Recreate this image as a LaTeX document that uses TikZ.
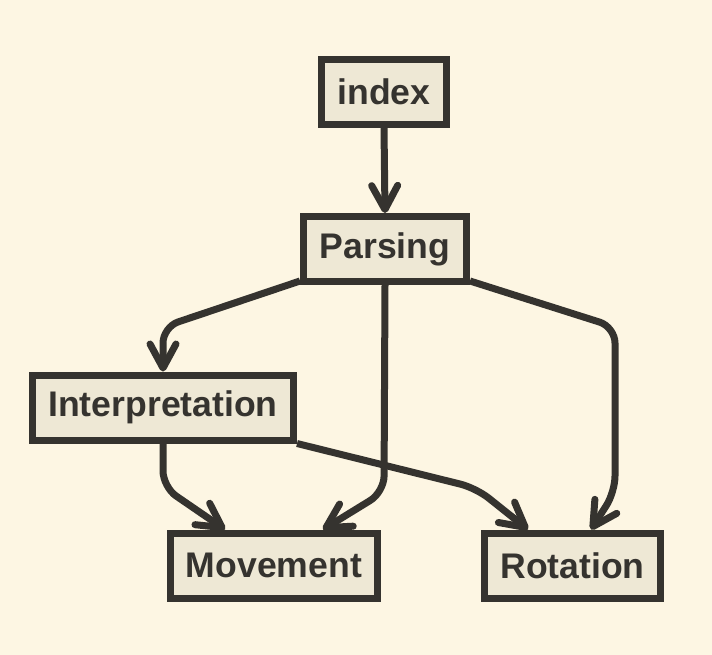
\documentclass[tikz,border=0pt]{standalone}
\usepackage{fontspec}
\setmainfont{Liberation Sans}
\usetikzlibrary{arrows.meta}
\definecolor{bgc}{HTML}{FDF6E3}
\definecolor{boxc}{HTML}{EEE8D5}
\definecolor{inkc}{HTML}{35332F}
\pgfdeclarearrow{
  name = MyVee,
  parameters = {\the\pgfarrowlength,\the\pgfarrowwidth},
  setup code = {
    \pgfarrowssettipend{3.5pt}
    \pgfarrowssetlineend{-2pt}
    \pgfarrowshullpoint{3.5pt}{0pt}
    \pgfarrowsupperhullpoint{-\pgfarrowlength}{.5\pgfarrowwidth}
    \pgfarrowssavethe\pgfarrowlength
    \pgfarrowssavethe\pgfarrowwidth
  },
  drawing code = {
    \pgfsetlinewidth{7pt}
    \pgfsetroundcap
    \pgfsetroundjoin
    \pgfpathmoveto{\pgfqpoint{-\pgfarrowlength}{.5\pgfarrowwidth}}
    \pgfpathlineto{\pgfqpoint{0pt}{0pt}}
    \pgfpathlineto{\pgfqpoint{-\pgfarrowlength}{-.5\pgfarrowwidth}}
    \pgfusepathqstroke
  },
  defaults = {length=22pt, width=23pt}
}
\begin{document}
\begin{tikzpicture}[x=1pt,y=-1pt,
  box/.style={draw=inkc,fill=boxc,line width=7pt,text=inkc,inner sep=0pt,
    minimum height=65pt,font=\fontsize{35.6}{40}\selectfont\bfseries},
  edge/.style={draw=inkc,line width=7pt,rounded corners=16pt,
    -{MyVee[length=24pt,width=26pt]}}]
\fill[bgc] (0,0) rectangle (712,655);
\useasboundingbox (0,0) rectangle (712,655);
\node[box,minimum width=125pt] (ix) at (384,92) {index};
\node[box,minimum width=163pt] (P) at (385,249) {Parsing};
\node[box,minimum width=261pt] (I) at (163,407.5) {Interpretation};
\node[box,minimum width=207pt] (M) at (274,565.5) {Movement};
\node[box,minimum width=176pt] (R) at (572.5,565.5) {Rotation};
\draw[edge] (ix.south) -- (P.north);
\draw[edge] ([yshift=4pt]P.south west) -- (163,327) -- (I.north);
\draw[edge] (P.south) -- (384,492) -- ([xshift=-58pt]M.north east);
\draw[edge] ([yshift=4pt]P.south east) -- (615,327) -- (615,492) -- ([xshift=-73pt]R.north east);
\draw[edge] (I.south) -- (163,487) -- ([xshift=58pt]M.north west);
\draw[edge] (I.south east) -- (476,488) -- ([xshift=47pt]R.north west);
\end{tikzpicture}
\end{document}
